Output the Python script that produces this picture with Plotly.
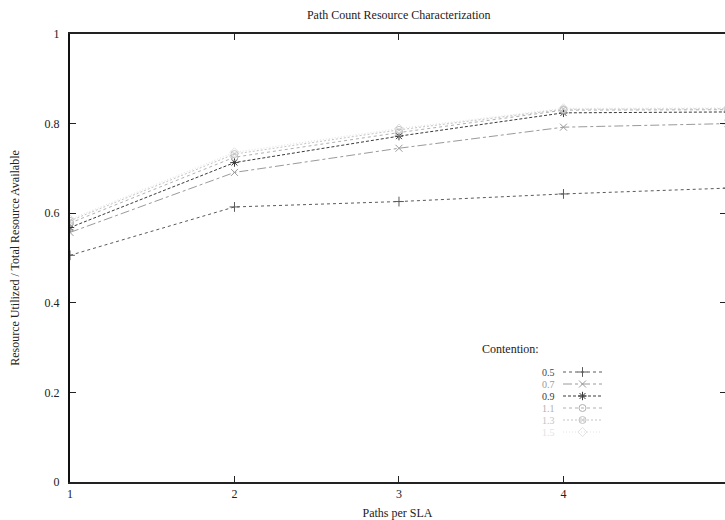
import plotly.graph_objects as go

# Paths per SLA (x) and resource utilisation for each contention level
paths = [1, 2, 3, 4, 5]
contention = ["0.5", "0.7", "0.9", "1.1", "1.3", "1.5"]
util_05 = [0.506, 0.614, 0.626, 0.643, 0.656]
util_07 = [0.557, 0.691, 0.745, 0.792, 0.800]
util_09 = [0.568, 0.713, 0.772, 0.824, 0.826]
util_11 = [0.578, 0.725, 0.780, 0.830, 0.831]
util_13 = [0.583, 0.732, 0.786, 0.832, 0.833]
util_15 = [0.586, 0.736, 0.789, 0.834, 0.835]
series = [util_05, util_07, util_09, util_11, util_13, util_15]

y_ticks = [0, 0.2, 0.4, 0.6, 0.8, 1]
y_tick_text = ["0", "0.2", "0.4", "0.6", "0.8", "1"]

# gnuplot-like monochrome styles
colors = ["#5a5a5a", "#9a9a9a", "#3a3a3a", "#b0b0b0", "#c4c4c4", "#e2e2e2"]
dashes = ["dot", "dashdot", "3px,2px", "dot", "2px,2px", "1px,2px"]
symbols = ["cross-thin-open", "x-thin-open", "asterisk-open",
           "circle-open", "circle-x-open", "diamond-open"]

FONT = "Liberation Serif, Times New Roman, serif"
W, H = 725, 520
L, R, T, B = 70, 0, 34, 38

fig = go.Figure()

for name, vals, c, d, s in zip(contention, series, colors, dashes, symbols):
    fig.add_trace(go.Scatter(
        x=paths, y=vals, mode="lines+markers", name=name,
        line=dict(color=c, width=1, dash=d),
        marker=dict(symbol=s, size=7, color=c, line=dict(color=c, width=1)),
        showlegend=False,
    ))

# Key placed inside the plot area, label followed by a line sample
plot_w = W - L - R
plot_h = H - T - B


def px_x(px):
    return (px - L) / plot_w


def px_y(py):
    return (H - B - py) / plot_h


key_label_right = 557
key_sample = (563, 602)
key_top = 372
key_step = 12

annotations = [dict(
    text="Contention:", xref="paper", yref="paper",
    x=px_x(541), y=px_y(349), xanchor="right", yanchor="middle",
    showarrow=False, font=dict(family=FONT, size=12, color="#222"),
)]

for i, (name, c, d, s) in enumerate(zip(contention, colors, dashes, symbols)):
    row_y = px_y(key_top + i * key_step)
    annotations.append(dict(
        text=name, xref="paper", yref="paper",
        x=px_x(key_label_right), y=row_y, xanchor="right", yanchor="middle",
        showarrow=False, font=dict(family=FONT, size=10, color=c if i else "#444"),
    ))
    fig.add_trace(go.Scatter(
        x=[px_x(key_sample[0]), px_x(key_sample[1])], y=[row_y, row_y],
        xaxis="x2", yaxis="y2", mode="lines", showlegend=False,
        line=dict(color=c, width=1, dash=d), hoverinfo="skip",
    ))
    fig.add_trace(go.Scatter(
        x=[px_x(sum(key_sample) / 2)], y=[row_y],
        xaxis="x2", yaxis="y2", mode="markers", showlegend=False,
        marker=dict(symbol=s, size=7, color=c, line=dict(color=c, width=1)),
        hoverinfo="skip",
    ))

fig.update_layout(
    width=W, height=H,
    margin=dict(l=L, r=R, t=T, b=B, pad=0),
    paper_bgcolor="white", plot_bgcolor="white",
    font=dict(family=FONT, size=12, color="#222"),
    title=dict(text="Path Count Resource Characterization", x=0.55, xanchor="center",
               y=0.972, yanchor="middle", font=dict(family=FONT, size=12, color="#222")),
    xaxis=dict(
        range=[1, 4.982], tickvals=paths[:4], ticktext=[str(p) for p in paths[:4]],
        ticks="inside", ticklen=6, tickcolor="#222", tickwidth=1,
        showline=True, linecolor="#222", linewidth=1.5, mirror="ticks",
        showgrid=False, zeroline=False,
        title=dict(text="Paths per SLA", standoff=8, font=dict(family=FONT, size=12)),
        tickfont=dict(family=FONT, size=12, color="#222"),
    ),
    yaxis=dict(
        range=[0, 1], tickvals=y_ticks, ticktext=y_tick_text,
        ticks="inside", ticklen=6, tickcolor="#222", tickwidth=1,
        showline=True, linecolor="#111", linewidth=2, mirror=False,
        ticklabelstandoff=6,
        showgrid=False, zeroline=False,
        title=dict(text="Resource Utilized / Total Resource Available", standoff=22,
                   font=dict(family=FONT, size=12)),
        tickfont=dict(family=FONT, size=12, color="#222"),
    ),
    # right-hand mirror ticks only (the frame's right edge lies past the page)
    yaxis3=dict(
        range=[0, 1], tickvals=y_ticks, overlaying="y", side="right",
        ticks="inside", ticklen=5, tickcolor="#222", tickwidth=1,
        showticklabels=False, showline=False, showgrid=False, zeroline=False,
    ),
    xaxis2=dict(range=[0, 1], overlaying="x", visible=False, fixedrange=True),
    yaxis2=dict(range=[0, 1], overlaying="y", visible=False, fixedrange=True),
    annotations=annotations,
)

# empty trace so the right-hand tick axis is drawn
fig.add_trace(go.Scatter(x=[], y=[], yaxis="y3", showlegend=False, hoverinfo="skip"))

fig.write_html("out.html")
